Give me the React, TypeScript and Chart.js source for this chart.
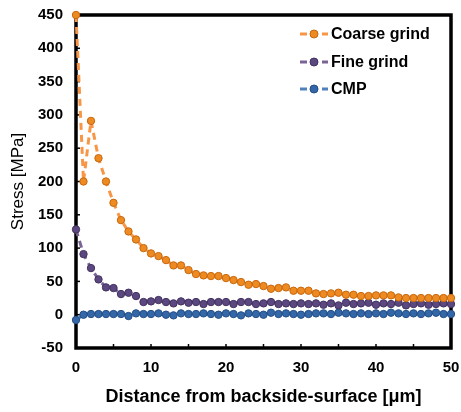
import React, { useEffect, useRef } from "react";
import { Chart, registerables } from "chart.js";

Chart.register(...registerables);

const distances = [
  0, 1, 2, 3, 4, 5, 6, 7, 8, 9, 10, 11, 12, 13, 14, 15, 16, 17, 18, 19, 20,
  21, 22, 23, 24, 25, 26, 27, 28, 29, 30, 31, 32, 33, 34, 35, 36, 37, 38, 39,
  40, 41, 42, 43, 44, 45, 46, 47, 48, 49, 50,
];

const coarseGrind = [
  450, 200, 291, 235, 200, 168, 142, 125, 113, 100, 92, 88, 82, 74, 74, 67, 61,
  59, 58, 58, 55, 52, 49, 45, 46, 43, 39, 40, 41, 36, 36, 36, 32, 31, 32, 33,
  30, 30, 28, 28, 29, 29, 29, 26, 25, 25, 25, 25, 25, 25, 25,
];

const fineGrind = [
  128, 91, 70, 53, 41, 40, 31, 33, 28, 19, 20, 22, 19, 17, 20, 18, 19, 16, 19,
  19, 19, 16, 19, 19, 16, 17, 19, 16, 17, 16, 17, 16, 17, 15, 17, 14, 18, 16,
  17, 18, 15, 17, 16, 18, 14, 16, 17, 15, 16, 17, 16,
];

const cmp = [
  -8, 0, 1, 1, 1, 1, 1, -2, 2, 1, 1, 2, 0, -1, 2, 1, 1, 2, 1, 0, 2, 1, -1, 2,
  1, 0, 3, 1, 2, 1, 0, 1, 2, 2, 1, 3, 2, 1, 2, 1, 2, 1, 3, 2, 1, 2, 1, 2, 3, 1,
  1,
];

const seriesNames = ["Coarse grind", "Fine grind", "CMP"];
const xLabel = "Distance from backside-surface [\u03bcm]";
const yLabel = "Stress [MPa]";

const FONT = "'Liberation Sans', Arial, Helvetica, sans-serif";

const lineColors = ["#F79646", "#7A6496", "#4F81BD"];
const pointColors = ["#EE8A22", "#5C4880", "#3467A8"];
const pointBorders = ["#C8680E", "#43325F", "#244E85"];

const framePlugin = {
  id: "frame",
  beforeDatasetsDraw(chart: any) {
    const { ctx, chartArea } = chart;
    const xs = chart.scales.x;
    const ys = chart.scales.y;
    ctx.save();
    ctx.strokeStyle = "#000";
    ctx.lineWidth = 1.5;
    for (let v = 5; v < 50; v += 5) {
      const px = xs.getPixelForValue(v);
      ctx.beginPath();
      ctx.moveTo(px, chartArea.bottom);
      ctx.lineTo(px, chartArea.bottom - 4);
      ctx.stroke();
    }
    for (let v = 0; v < 450; v += 50) {
      const py = ys.getPixelForValue(v);
      ctx.beginPath();
      ctx.moveTo(chartArea.left, py);
      ctx.lineTo(chartArea.left + 4, py);
      ctx.stroke();
    }
    ctx.lineWidth = 3.5;
    ctx.strokeRect(
      chartArea.left,
      chartArea.top,
      chartArea.right - chartArea.left,
      chartArea.bottom - chartArea.top
    );
    ctx.restore();
  },
};

const legendPlugin = {
  id: "insideLegend",
  afterDraw(chart: any) {
    const { ctx } = chart;
    const ys = [34, 62, 89];
    ctx.save();
    chart.data.datasets.forEach((ds: any, i: number) => {
      const y = ys[i];
      ctx.strokeStyle = lineColors[i];
      ctx.lineWidth = 3;
      ctx.setLineDash([7, 4]);
      ctx.beginPath();
      ctx.moveTo(300, y);
      ctx.lineTo(328, y);
      ctx.stroke();
      ctx.setLineDash([]);
      ctx.fillStyle = pointColors[i];
      ctx.strokeStyle = pointBorders[i];
      ctx.lineWidth = 1;
      ctx.beginPath();
      ctx.arc(314, y, 4, 0, Math.PI * 2);
      ctx.fill();
      ctx.stroke();
      ctx.fillStyle = "#000";
      ctx.font = `bold 16px ${FONT}`;
      ctx.textAlign = "left";
      ctx.textBaseline = "middle";
      ctx.fillText(ds.label, 331, y + 1);
    });
    ctx.restore();
  },
};

export default function App() {
  const canvasRef = useRef<HTMLCanvasElement | null>(null);

  useEffect(() => {
    document.body.style.margin = "0";
    const canvas = canvasRef.current;
    if (!canvas) return;
    const seriesValues = [coarseGrind, fineGrind, cmp];
    const chart = new Chart(canvas, {
      type: "line",
      data: {
        datasets: seriesValues.map((vals, i) => ({
          label: seriesNames[i],
          data: distances.map((d, j) => ({ x: d, y: vals[j] })),
          borderColor: lineColors[i],
          borderWidth: 3,
          borderDash: [7, 5],
          pointRadius: 3.7,
          pointBackgroundColor: pointColors[i],
          pointBorderColor: pointBorders[i],
          pointBorderWidth: 1,
          fill: false,
          tension: 0,
          clip: false as any,
        })),
      },
      options: {
        responsive: false,
        animation: false,
        devicePixelRatio: 1,
        layout: { padding: { left: 0, right: 10, top: 15, bottom: 0 } },
        plugins: {
          legend: { display: false },
          tooltip: { enabled: false },
        },
        scales: {
          x: {
            type: "linear",
            min: 0,
            max: 50,
            grid: { display: false, drawTicks: false },
            border: { display: false },
            ticks: {
              stepSize: 10,
              color: "#000",
              font: { family: FONT, size: 15, weight: "bold" },
              padding: 11,
              maxRotation: 0,
            },
            title: {
              display: true,
              text: xLabel,
              color: "#000",
              font: { family: FONT, size: 18, weight: "bold" },
              padding: { top: 0, bottom: 4 },
            },
            afterFit(scale: any) {
              scale.height = 64;
              scale.paddingLeft = 0;
              scale.paddingRight = 0;
              scale.paddingTop = 0;
              scale.paddingBottom = 0;
            },
          },
          y: {
            type: "linear",
            min: -50,
            max: 450,
            grid: { display: false, drawTicks: false },
            border: { display: false },
            ticks: {
              stepSize: 50,
              color: "#000",
              font: { family: FONT, size: 15, weight: "bold" },
              padding: 13,
            },
            title: {
              display: true,
              text: yLabel,
              color: "#000",
              font: { family: FONT, size: 17, weight: "normal" },
              padding: { top: 8, bottom: 0 },
            },
            afterFit(scale: any) {
              scale.width = 76;
              scale.paddingLeft = 0;
              scale.paddingRight = 0;
              scale.paddingTop = 0;
              scale.paddingBottom = 0;
            },
          },
        },
      } as any,
      plugins: [framePlugin, legendPlugin],
    });
    return () => chart.destroy();
  }, []);

  return (
    <div style={{ width: 461, height: 412 }}>
      <canvas ref={canvasRef} width={461} height={412} />
    </div>
  );
}
